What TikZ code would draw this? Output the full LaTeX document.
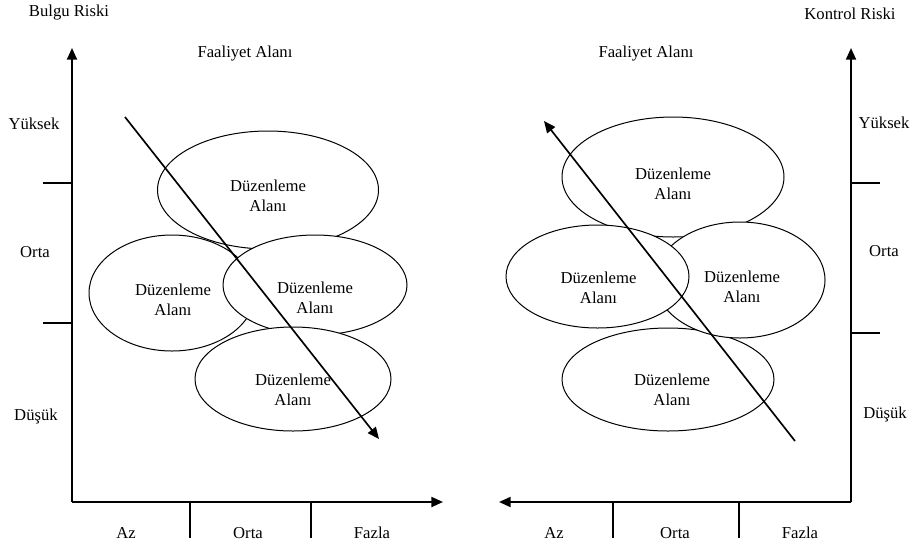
\documentclass[tikz,border=0pt]{standalone}
\usepackage{fontspec}
\setmainfont{Liberation Serif}
\usetikzlibrary{shapes.geometric,arrows.meta}

\begin{document}
\begin{tikzpicture}[x=0.6pt,y=-0.6pt,font=\fontsize{10}{12}\selectfont,
    area/.style={draw, ellipse, fill=white, inner sep=0pt, line width=0.6pt},
    txt/.style={inner sep=0pt, align=center},
    axis/.style={line width=1.2pt, -{Triangle[length=7pt,width=6pt]}},
    trend/.style={line width=1pt, -{Triangle[length=7pt,width=6pt]}},
    divider/.style={line width=0.8pt}]

    \useasboundingbox (0,0) rectangle (912,547);

    % left: Bulgu Riski
    \coordinate (LO) at (72,502);
    \coordinate (LY) at (72,48);
    \coordinate (LX) at (443,502);

    \draw[axis] (LO) -- (LY);
    \draw[axis] (LO) -- (LX);
    \foreach \y in {183,323}
        \draw[divider] (43,\y) -- (72,\y);
    \foreach \x in {190,311}
        \draw[divider] (\x,502) -- (\x,538);

    \node[txt] (Lrisk) at (69,13) {Bulgu Riski};
    \node[txt] (Lfield) at (245,54) {Faaliyet Alanı};
    \node[txt] (Lhigh) at (34,124) {Yüksek};
    \node[txt] (Lmid) at (35,252) {Orta};
    \node[txt] (Llow) at (36,416) {Düşük};
    \node[txt] (Lfew) at (126,533) {Az};
    \node[txt] (Lmed) at (248,533) {Orta};
    \node[txt] (Lmany) at (372,533) {Fazla};

    \node[area, minimum width=132.6pt, minimum height=70.8pt] (LE1) at (268,190) {};
    \node[area, minimum width=99.6pt, minimum height=69.6pt] (LE2) at (172,293) {};
    \node[area, minimum width=110.4pt, minimum height=60pt] (LE3) at (315,285) {};
    \node[area, minimum width=117.6pt, minimum height=62.4pt] (LE4) at (293,379) {};

    \node[txt] (LE1t) at (268,196) {Düzenleme\\Alanı};
    \node[txt] (LE2t) at (173,300) {Düzenleme\\Alanı};
    \node[txt] (LE3t) at (315,298) {Düzenleme\\Alanı};
    \node[txt] (LE4t) at (293,390) {Düzenleme\\Alanı};

    \coordinate (LA) at (125,117);
    \coordinate (LB) at (379,439);
    \draw[trend] (LA) -- (LB);

    %------------------------------------------------

    % right: Kontrol Riski
    \coordinate (RO) at (851,502);
    \coordinate (RY) at (851,48);
    \coordinate (RX) at (499,502);

    \draw[axis] (RO) -- (RY);
    \draw[axis] (RO) -- (RX);
    \foreach \y in {183,333}
        \draw[divider] (851,\y) -- (880,\y);
    \foreach \x in {613,739}
        \draw[divider] (\x,502) -- (\x,538);

    \node[txt] (Rrisk) at (850,14) {Kontrol Riski};
    \node[txt] (Rfield) at (646,54) {Faaliyet Alanı};
    \node[txt] (Rhigh) at (884,123) {Yüksek};
    \node[txt] (Rmid) at (884,251) {Orta};
    \node[txt] (Rlow) at (885,414) {Düşük};
    \node[txt] (Rfew) at (554,533) {Az};
    \node[txt] (Rmed) at (675,533) {Orta};
    \node[txt] (Rmany) at (800,533) {Fazla};

    \node[area, minimum width=133.2pt, minimum height=72pt] (RE1) at (673,177) {};
    \node[area, minimum width=127.2pt, minimum height=61.8pt] (RE4) at (668,379.5) {};
    \node[area, minimum width=102pt, minimum height=69.6pt] (RE3) at (740,280) {};
    \node[area, minimum width=109.8pt, minimum height=61.8pt] (RE2) at (597.5,276.5) {};

    \node[txt] (RE1t) at (673,184) {Düzenleme\\Alanı};
    \node[txt] (RE2t) at (598.5,288) {Düzenleme\\Alanı};
    \node[txt] (RE3t) at (742,287) {Düzenleme\\Alanı};
    \node[txt] (RE4t) at (672,390) {Düzenleme\\Alanı};

    \coordinate (RA) at (795,441);
    \coordinate (RB) at (544,121);
    \draw[trend] (RA) -- (RB);
\end{tikzpicture}
\end{document}
